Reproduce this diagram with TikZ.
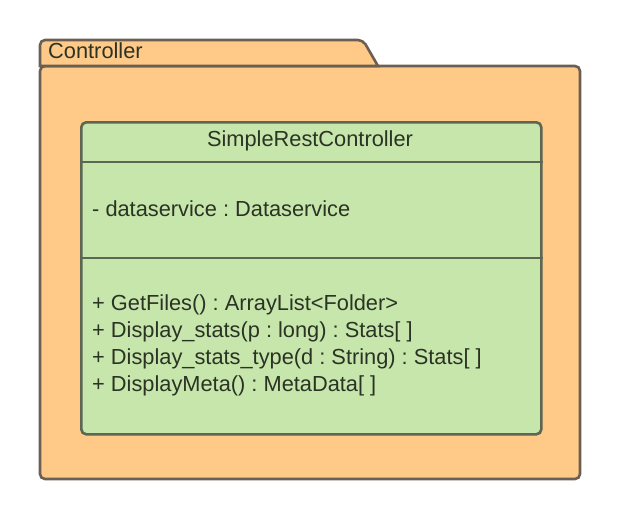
\documentclass[tikz,border=0pt]{standalone}
\usepackage{fontspec}
\setmainfont{Liberation Sans}
\frenchspacing
\definecolor{pkgfill}{HTML}{FFC987}
\definecolor{pkgdraw}{HTML}{6B5E52}
\definecolor{clsfill}{HTML}{C7E6AC}
\definecolor{clsdraw}{HTML}{5C6652}
\definecolor{txt}{HTML}{2B3324}
\tikzset{
  pkgline/.style={draw=pkgdraw, fill=pkgfill, line width=2.6},
  clsbox/.style={draw=clsdraw, fill=clsfill, line width=2.6, rounded corners=5,
    anchor=north west, minimum width=460, minimum height=312, inner sep=0},
  sep/.style={draw=clsdraw, line width=2.6},
  lbl/.style={anchor=base west, inner sep=0, text=txt, font=\fontsize{21.8}{26}\selectfont}
}

\begin{document}
\begin{tikzpicture}[x=1pt, y=-1pt]
\useasboundingbox (0,0) rectangle (620,520);
% package body and tab
\draw[pkgline, rounded corners=5] (40,66) rectangle (580,479);
\draw[pkgline] (40,66) {[rounded corners=5] -- (40,40) -- (363,40)} -- (378,66) -- cycle;
\node[lbl] (pkgname) at (48,58) {Controller};
% class
\node[clsbox] (cls) at (80,121) {};
\draw[sep] ([yshift=-41pt]cls.north west) -- ([yshift=-41pt]cls.north east);
\draw[sep] ([yshift=-137pt]cls.north west) -- ([yshift=-137pt]cls.north east);
\node[lbl, anchor=base] (clsname) at (310,146) {SimpleRestController};
\node[lbl] (attr) at (92,216) {- dataservice : Dataservice};
\node[lbl] (op1) at (92,310) {+ GetFiles() : ArrayList<Folder>};
\node[lbl] (op2) at (92,337) {+ Display\_stats(p : long) : Stats[ ]};
\node[lbl] (op3) at (92,364) {+ Display\_stats\_type(d : String) : Stats[ ]};
\node[lbl] (op4) at (92,391) {+ DisplayMeta() : MetaData[ ]};
\end{tikzpicture}
\end{document}
